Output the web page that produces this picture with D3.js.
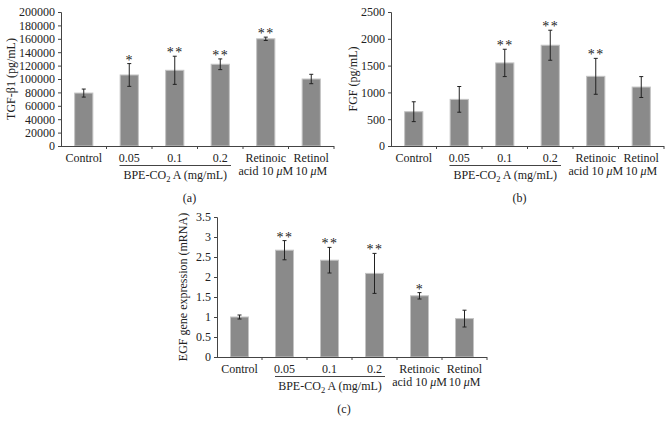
<!DOCTYPE html>
<html><head><meta charset="utf-8">
<script src="https://cdn.jsdelivr.net/npm/d3@7"></script>
<style>body{margin:0;background:#fff}svg{display:block}text{font-family:"Liberation Serif","Times New Roman",serif;fill:#222}</style>
</head><body><svg id="c" width="669" height="422"></svg>
<script>
const categories = ["Control","0.05","0.1","0.2","Retinoic|acid 10 μM","Retinol|10 μM"];
const tgfValues = [79000,106000,113000,122000,160000,100000];
const tgfErrors = [6000,17000,21000,8000,2500,7000];
const tgfStars = ["","*","**","**","**",""];
const tgfTicks = [0,20000,40000,60000,80000,100000,120000,140000,160000,180000,200000];
const fgfValues = [640,870,1550,1880,1300,1100];
const fgfErrors = [185,240,255,280,335,195];
const fgfStars = ["","","**","**","**",""];
const fgfTicks = [0,500,1000,1500,2000,2500];
const egfValues = [1.0,2.67,2.42,2.09,1.53,0.96];
const egfErrors = [0.05,0.24,0.32,0.5,0.08,0.21];
const egfStars = ["","**","**","**","*",""];
const egfTicks = [0,0.5,1,1.5,2,2.5,3,3.5];

const FS = 12;
const svg = d3.select("#c");
const panels = [
  {vals:tgfValues, errs:tgfErrors, stars:tgfStars, ticks:tgfTicks, max:200000, x0:61, x1:334, top:12, bot:146, ylab:"TGF-β1 (pg/mL)", ylx:15, tag:"(a)"},
  {vals:fgfValues, errs:fgfErrors, stars:fgfStars, ticks:fgfTicks, max:2500, x0:391, x1:664, top:12, bot:146, ylab:"FGF (pg/mL)", ylx:357, tag:"(b)"},
  {vals:egfValues, errs:egfErrors, stars:egfStars, ticks:egfTicks, max:3.5, x0:217, x1:487, top:217, bot:357, ylab:"EGF gene expression (mRNA)", ylx:187, tag:"(c)"}
];

function addLabel(t, s){
  // render μ in italic
  const parts = s.split("μ");
  parts.forEach((pt,i)=>{
    if(i>0) t.append("tspan").attr("font-style","italic").text("μ");
    if(pt) t.append("tspan").text(pt);
  });
}

panels.forEach(p => {
  const g = svg.append("g");
  const x = d3.scaleBand().domain(categories).range([p.x0, p.x1]).paddingInner(0.6).paddingOuter(0.3);
  const xb = d3.scaleLinear().domain([0, categories.length]).range([p.x0, p.x1]);
  const y = d3.scaleLinear().domain([0, p.max]).range([p.bot, p.top]);
  const ya = g.append("g").attr("transform",`translate(${p.x0},0)`)
    .call(d3.axisLeft(y).tickValues(p.ticks).tickSize(3).tickPadding(3).tickFormat(d=>String(d)));
  ya.attr("font-family",null).attr("font-size",null);
  ya.select(".domain").attr("stroke","#444");
  ya.selectAll(".tick line").attr("stroke","#444");
  ya.selectAll("text").attr("font-size",FS).attr("fill","#222");
  const data = categories.map((c,i)=>({c, v:p.vals[i], e:p.errs[i], s:p.stars[i]}));
  g.selectAll("rect.bar").data(data).join("rect")
    .attr("x", d=>x(d.c)).attr("width", x.bandwidth())
    .attr("y", d=>y(d.v)).attr("height", d=>y(0)-y(d.v))
    .attr("fill","#8a8a8a").attr("stroke","#c4c4c4").attr("stroke-width",1);
  const eb = g.selectAll("g.err").data(data).join("g");
  eb.append("line").attr("x1",d=>x(d.c)+x.bandwidth()/2).attr("x2",d=>x(d.c)+x.bandwidth()/2)
    .attr("y1",d=>y(d.v+d.e)).attr("y2",d=>y(d.v-d.e)).attr("stroke","#222").attr("stroke-width",1);
  [1,-1].forEach(sg=>{
    eb.append("line").attr("x1",d=>x(d.c)+x.bandwidth()/2-2).attr("x2",d=>x(d.c)+x.bandwidth()/2+2)
      .attr("y1",d=>y(d.v+sg*d.e)).attr("y2",d=>y(d.v+sg*d.e)).attr("stroke","#222").attr("stroke-width",1);
  });
  g.selectAll("text.star").data(data.filter(d=>d.s)).join("text")
    .attr("x",d=>x(d.c)+x.bandwidth()/2+0.5).attr("y",d=>y(d.v+d.e)+1)
    .attr("text-anchor","middle").attr("font-size",14).attr("letter-spacing",1.5).attr("fill","#333").text(d=>d.s);
  g.append("line").attr("x1",p.x0).attr("x2",p.x1).attr("y1",p.bot+0.5).attr("y2",p.bot+0.5).attr("stroke","#444");
  g.selectAll("line.xt").data(d3.range(1,categories.length+1)).join("line")
    .attr("x1",d=>xb(d)).attr("x2",d=>xb(d)).attr("y1",p.bot).attr("y2",p.bot+3).attr("stroke","#444");
  categories.forEach(c=>{
    const lines = c.split("|");
    const t = g.append("text").attr("text-anchor","middle").attr("font-size",FS);
    lines.forEach((ln,k)=>{
      const ts = t.append("tspan").attr("x", x(c)+x.bandwidth()/2).attr("y", p.bot+15.5+k*13.5);
      addLabel(ts, ln);
    });
  });
  const gx1 = xb(1)+13, gx2 = xb(4)-12;
  g.append("line").attr("x1",gx1).attr("x2",gx2).attr("y1",p.bot+19.5).attr("y2",p.bot+19.5).attr("stroke","#444");
  const bl = g.append("text").attr("x",(gx1+gx2)/2).attr("y",p.bot+32.5).attr("text-anchor","middle").attr("font-size",FS);
  bl.append("tspan").text("BPE-CO");
  bl.append("tspan").attr("font-size",8.5).attr("dy",3).text("2");
  bl.append("tspan").attr("dy",-3).text(" A (mg/mL)");
  g.append("text").attr("transform",`translate(${p.ylx},${(p.top+p.bot)/2}) rotate(-90)`)
    .attr("text-anchor","middle").attr("font-size",FS).text(p.ylab);
  g.append("text").attr("x",(p.x0+p.x1)/2-8).attr("y",p.bot+55.5).attr("text-anchor","middle").attr("font-size",FS).text(p.tag);
});
</script></body></html>
